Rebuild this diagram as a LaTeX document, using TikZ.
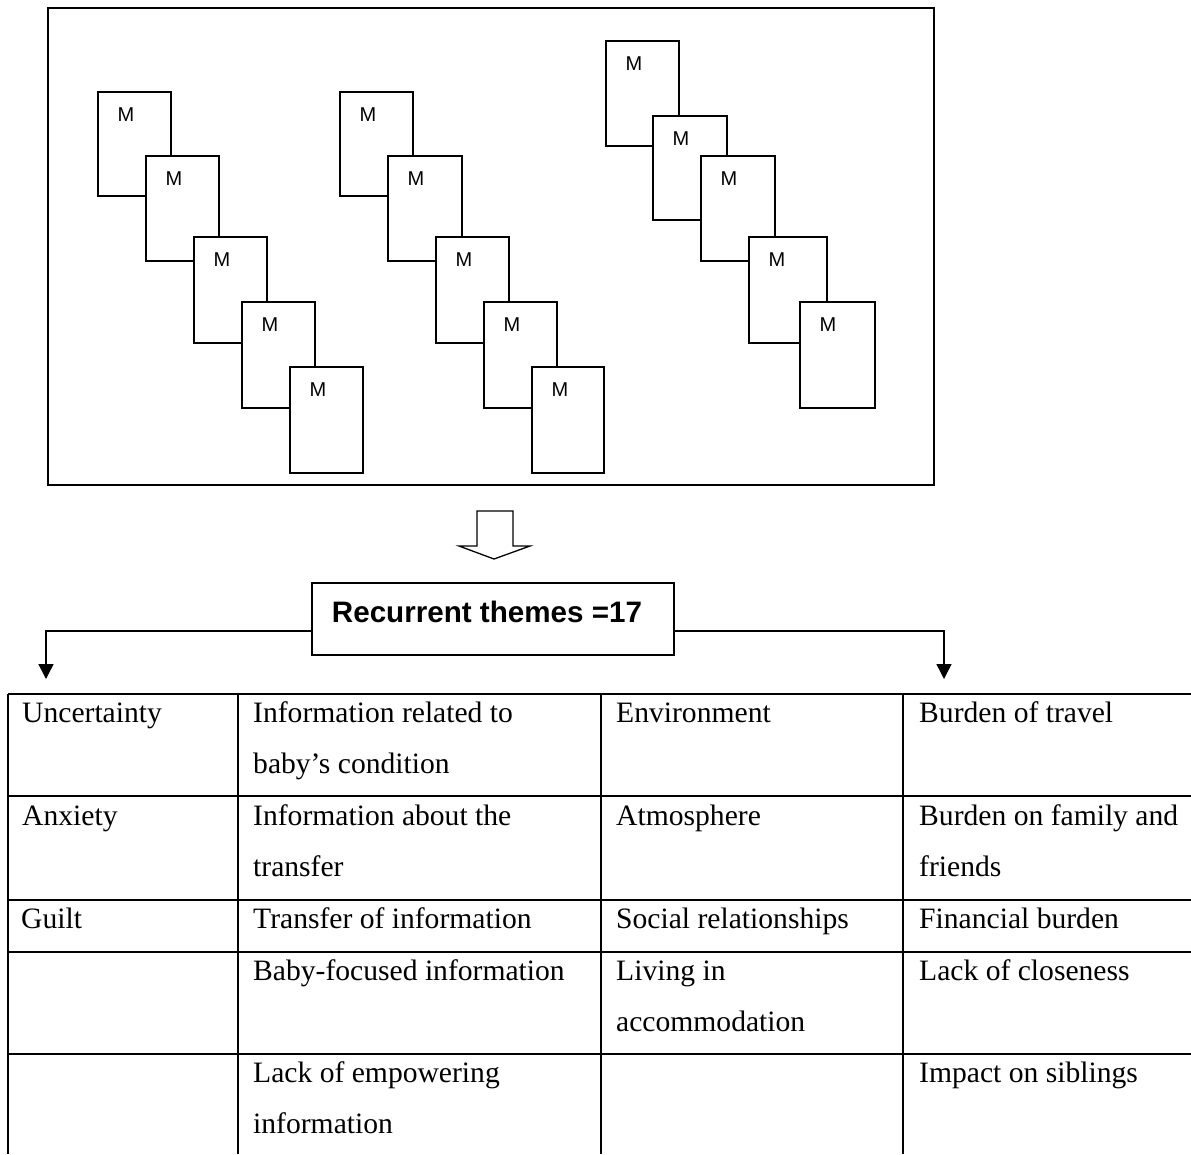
\documentclass[tikz,border=0pt]{standalone}
\usepackage{fontspec}
\setmainfont{Liberation Serif}
\newfontfamily\arialf{Liberation Sans}
\usetikzlibrary{arrows.meta}
\begin{document}
\begin{tikzpicture}[x=1pt,y=-1pt,
  card/.style={draw=black,line width=1.5pt,fill=white,inner sep=0pt,anchor=north west},
  mlab/.style={anchor=base,inner sep=0pt,font=\arialf\fontsize{20}{22}\selectfont},
  frame/.style={draw=black,line width=2pt},
  titlebox/.style={draw=black,line width=1.5pt,fill=white,inner sep=0pt,minimum width=362pt,minimum height=72pt},
  conn/.style={draw=black,line width=1.5pt,-{Triangle[width=15pt,length=15pt]}},
  grid/.style={draw=black,line width=1.3pt},
  cell/.style={anchor=base west,inner sep=0pt,font=\fontsize{29.6}{34}\selectfont}]
\useasboundingbox (0,0) rectangle (1191,1154);
\fill[white] (0,0) rectangle (1191,1154);
% outer frame
\draw[frame] (48,8) rectangle (934,485);
% cards
\newcommand\mcard[5]{%
  \node[card,minimum width={(#4-#2)*1pt},minimum height={(#5-#3)*1pt}] (#1) at (#2,#3) {};
  \node[mlab] (#1m) at ({#2+29},{#3+30}) {M};}
\mcard{a1}{97}{91}{170}{195}
\mcard{a2}{145}{155}{218}{260}
\mcard{a3}{193}{236}{266}{342}
\mcard{a4}{241}{301}{314}{407}
\mcard{a5}{289}{366}{362}{472}
\mcard{b1}{339}{91}{412}{195}
\mcard{b2}{387}{155}{461}{260}
\mcard{b3}{435}{236}{508}{342}
\mcard{b4}{483}{301}{556}{407}
\mcard{b5}{531}{366}{603}{472}
\mcard{c1}{605}{40}{678}{145}
\mcard{c2}{652}{115}{726}{219}
\mcard{c3}{700}{155}{774}{260}
\mcard{c4}{748}{236}{826}{342}
\mcard{c5}{799}{301}{874}{407}
% block arrow
\draw[line width=1.3pt,fill=white] (477,511) -- (513,511) -- (513,546) -- (530,546) -- (494,559) -- (459,546) -- (477,546) -- cycle;
% title
\node[titlebox] (title) at (493,619) {};
\node[anchor=base,inner sep=0pt,font=\arialf\bfseries\fontsize{29.6}{34}\selectfont] (titletext) at (487,622) {Recurrent themes =17};
\coordinate (lt) at (46,679);
\coordinate (rt) at (944,679);
\draw[conn] ([yshift=-12pt]title.west) -| (lt);
\draw[conn] ([yshift=-12pt]title.east) -| (rt);
% table grid
\foreach \y in {694,796,900,952,1054} \draw[grid] (8,\y) -- (1191,\y);
\foreach \x in {8,238,601,903} \draw[grid] (\x,694) -- (\x,1154);
% row 1
\node[cell] (r1c1) at (22,722) {Uncertainty};
\node[cell] (r1c2a) at (253,722) {Information related to};
\node[cell] (r1c2b) at (253,773) {baby’s condition};
\node[cell] (r1c3) at (616,722) {Environment};
\node[cell] (r1c4) at (919,722) {Burden of travel};
% row 2
\node[cell] (r2c1) at (22,825) {Anxiety};
\node[cell] (r2c2a) at (253,825) {Information about the};
\node[cell] (r2c2b) at (253,876) {transfer};
\node[cell] (r2c3) at (616,825) {Atmosphere};
\node[cell] (r2c4a) at (919,825) {Burden on family and};
\node[cell] (r2c4b) at (919,876) {friends};
% row 3
\node[cell] (r3c1) at (21,928) {Guilt};
\node[cell] (r3c2) at (253,928) {Transfer of information};
\node[cell] (r3c3) at (616,928) {Social relationships};
\node[cell] (r3c4) at (919,928) {Financial burden};
% row 4
\node[cell] (r4c2) at (253,980) {Baby-focused information};
\node[cell] (r4c3a) at (616,980) {Living in};
\node[cell] (r4c3b) at (616,1031) {accommodation};
\node[cell] (r4c4) at (919,980) {Lack of closeness};
% row 5
\node[cell] (r5c2a) at (253,1082) {Lack of empowering};
\node[cell] (r5c2b) at (253,1133) {information};
\node[cell] (r5c4) at (919,1082) {Impact on siblings};
\end{tikzpicture}
\end{document}
